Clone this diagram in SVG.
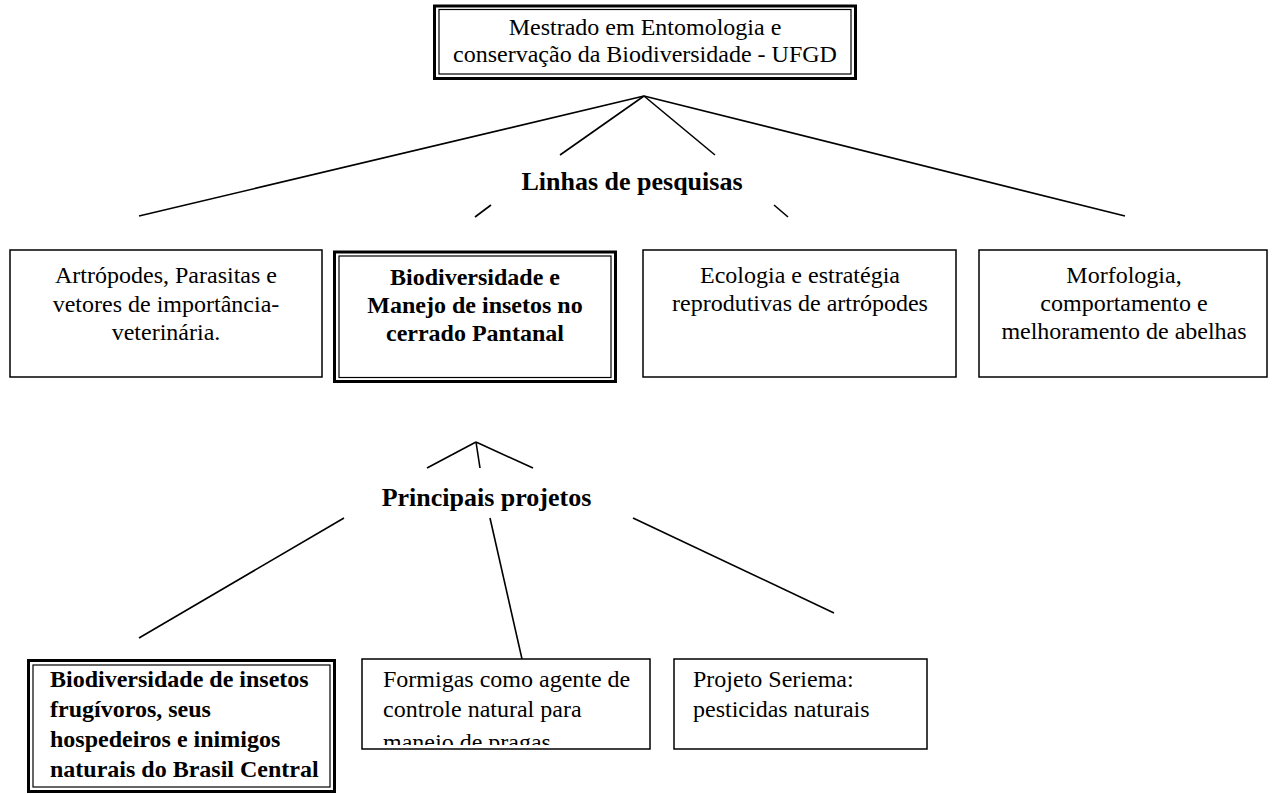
<svg xmlns="http://www.w3.org/2000/svg" width="1274" height="794" viewBox="0 0 1274 794">
<style>
.bg{fill:#fff}
.box{fill:#fff;stroke:#000;stroke-width:1.5}
.outer{fill:#fff;stroke:#000;stroke-width:3}
.inner{fill:none;stroke:#000;stroke-width:1.2}
.t{font-family:"Liberation Serif","Times New Roman",serif;font-size:24px;fill:#000}
.c{text-anchor:middle}
.b{font-weight:bold}
.lbl{font-size:26px}
#connectors line{stroke:#000;stroke-width:1.6}
</style>
<defs>
<clipPath id="clipB"><rect x="363" y="660" width="286" height="85"/></clipPath>
</defs>
<rect class="bg" x="0" y="0" width="1274" height="794"/>

<g id="connectors">
<line x1="644" y1="96" x2="139" y2="216"/>
<line x1="644" y1="96" x2="1125" y2="216"/>
<line x1="644" y1="96" x2="560" y2="155"/>
<line x1="644" y1="96" x2="715" y2="155"/>
<line x1="491" y1="205" x2="475" y2="217"/>
<line x1="774" y1="205" x2="788" y2="217"/>
<line x1="476" y1="442" x2="427" y2="468"/>
<line x1="476" y1="442" x2="480" y2="468"/>
<line x1="476" y1="442" x2="533" y2="468"/>
<line x1="344" y1="518" x2="139" y2="638"/>
<line x1="490" y1="518" x2="522" y2="659"/>
<line x1="633" y1="518" x2="834" y2="613"/>
</g>

<g id="top">
<rect class="outer" x="434.5" y="6" width="421" height="72.5"/>
<rect class="inner" x="439" y="9.5" width="412" height="64.5"/>
<text class="t c" x="645" y="35">Mestrado em Entomologia e</text>
<text class="t c" x="645" y="62">conservação da Biodiversidade - UFGD</text>
</g>

<g id="label-linhas">
<text class="t c b lbl" x="632" y="190">Linhas de pesquisas</text>
</g>

<g id="linha1">
<rect class="box" x="10" y="250" width="312" height="127"/>
<text class="t c" x="166" y="283">Artrópodes, Parasitas e</text>
<text class="t c" x="166" y="311.5">vetores de importância-</text>
<text class="t c" x="166" y="340">veterinária.</text>
</g>

<g id="linha2">
<rect class="outer" x="334.5" y="252" width="281" height="129.5"/>
<rect class="inner" x="339" y="256" width="272" height="121.5"/>
<text class="t c b" x="475" y="285">Biodiversidade e</text>
<text class="t c b" x="475" y="313">Manejo de insetos no</text>
<text class="t c b" x="475" y="341">cerrado Pantanal</text>
</g>

<g id="linha3">
<rect class="box" x="643" y="250" width="313" height="127"/>
<text class="t c" x="800" y="283">Ecologia e estratégia</text>
<text class="t c" x="800" y="311">reprodutivas de artrópodes</text>
</g>

<g id="linha4">
<rect class="box" x="979" y="250" width="288" height="127"/>
<text class="t c" x="1124" y="283">Morfologia,</text>
<text class="t c" x="1124" y="311">comportamento e</text>
<text class="t c" x="1124" y="339">melhoramento de abelhas</text>
</g>

<g id="label-projetos">
<text class="t c b lbl" x="486.5" y="506">Principais projetos</text>
</g>

<g id="projetoA">
<rect class="outer" x="28.5" y="660.5" width="306" height="131"/>
<rect class="inner" x="33" y="665" width="297" height="122"/>
<text class="t b" x="50" y="687">Biodiversidade de insetos</text>
<text class="t b" x="50" y="717">frugívoros, seus</text>
<text class="t b" x="50" y="747">hospedeiros e inimigos</text>
<text class="t b" x="50" y="777">naturais do Brasil Central</text>
</g>

<g id="projetoB">
<rect class="box" x="362" y="659" width="288" height="90"/>
<g clip-path="url(#clipB)">
<text class="t" x="383" y="687">Formigas como agente de</text>
<text class="t" x="383" y="717">controle natural para</text>
<text class="t" x="383" y="750">manejo de pragas</text>
</g>
</g>

<g id="projetoC">
<rect class="box" x="674" y="659" width="253" height="90"/>
<text class="t" x="693" y="687">Projeto Seriema:</text>
<text class="t" x="693" y="717">pesticidas naturais</text>
</g>
</svg>
